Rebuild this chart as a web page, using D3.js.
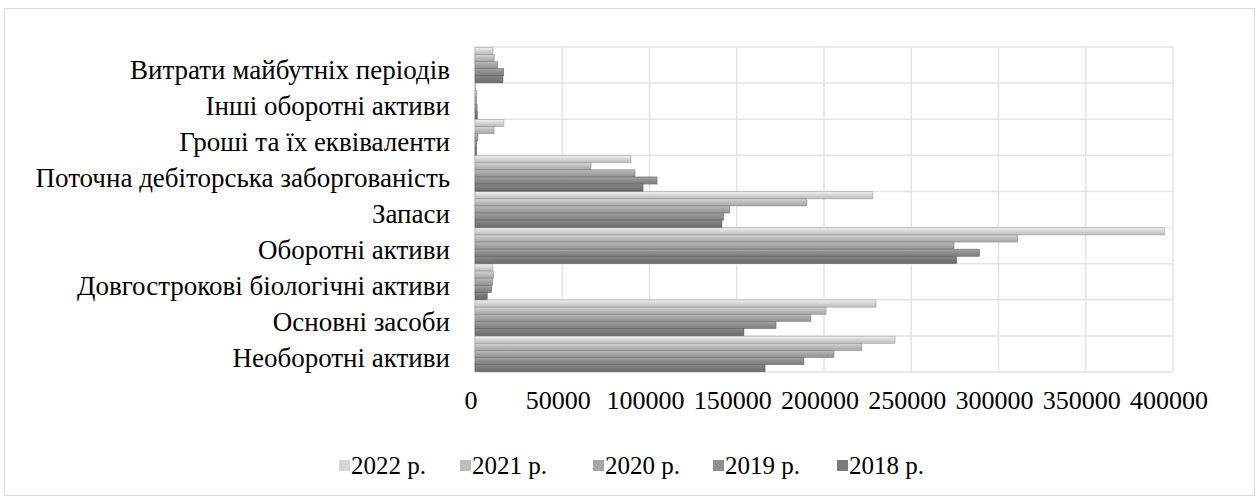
<!DOCTYPE html>
<html>
<head>
<meta charset="utf-8">
<script src="https://cdnjs.cloudflare.com/ajax/libs/d3/7.8.5/d3.min.js"></script>
<style>
  body { margin: 0; background: #fff; }
  text { font-family: "Liberation Serif", "Times New Roman", serif; fill: #000; }
</style>
</head>
<body>
<div id="chart"></div>
<script>
// categories top to bottom
var categories = [
  "Витрати майбутніх періодів",
  "Інші оборотні активи",
  "Гроші та їх еквіваленти",
  "Поточна дебіторська заборгованість",
  "Запаси",
  "Оборотні активи",
  "Довгострокові біологічні активи",
  "Основні засоби",
  "Необоротні активи"
];
var years = ["2022 р.", "2021 р.", "2020 р.", "2019 р.", "2018 р."];
var v2022 = [10300, 500, 16600, 89400, 228000, 395000, 10000, 229800, 240700];
var v2021 = [11000, 800, 10900, 66500, 190200, 311000, 10500, 201100, 221700];
var v2020 = [13000, 1000, 1700, 91700, 146000, 274500, 10000, 192500, 205700];
var v2019 = [16500, 1200, 1000, 104300, 142500, 289000, 9500, 172500, 188500];
var v2018 = [16000, 1300, 800, 96300, 141500, 276000, 7000, 154100, 166200];
var xTicks = [0, 50000, 100000, 150000, 200000, 250000, 300000, 350000, 400000];
var colors = ["#d6d6d6", "#bdbdbd", "#a6a6a6", "#8f8f8f", "#7a7a7a"];

var series = [v2022, v2021, v2020, v2019, v2018];

var width = 1258, height = 499;
var svg = d3.select("#chart").append("svg")
    .attr("width", width)
    .attr("height", height);

// outer frame
svg.append("rect")
    .attr("x", 4.5).attr("y", 8.5)
    .attr("width", 1250).attr("height", 487)
    .attr("fill", "#fff")
    .attr("stroke", "#d9d9d9");

var x = d3.scaleLinear().domain([0, 400000]).range([475, 1173]);
var y = d3.scaleBand().domain(categories).range([47, 372]);
var ySub = d3.scaleBand().domain(years).range([0, y.bandwidth()]).paddingOuter(0.04);

// gradients for the shaded bars
var defs = svg.append("defs");
colors.forEach(function (c, i) {
    var g = defs.append("linearGradient")
        .attr("id", "grad" + i)
        .attr("x1", 0).attr("y1", 0).attr("x2", 0).attr("y2", 1);
    g.append("stop").attr("offset", "0%").attr("stop-color", d3.color(c).brighter(0.35));
    g.append("stop").attr("offset", "45%").attr("stop-color", c);
    g.append("stop").attr("offset", "100%").attr("stop-color", d3.color(c).darker(0.35));
});

// grid
var grid = svg.append("g");
grid.selectAll("line.v")
    .data(xTicks)
    .enter().append("line")
    .attr("x1", function (d) { return x(d); })
    .attr("x2", function (d) { return x(d); })
    .attr("y1", y.range()[0])
    .attr("y2", y.range()[1])
    .attr("stroke", "#e3e3e3")
    .attr("stroke-width", 1.5);
var hLines = categories.map(function (c) { return y(c); }).concat([y.range()[1]]);
grid.selectAll("line.h")
    .data(hLines)
    .enter().append("line")
    .attr("x1", x(0))
    .attr("x2", x(400000))
    .attr("y1", function (d) { return d; })
    .attr("y2", function (d) { return d; })
    .attr("stroke", "#e3e3e3")
    .attr("stroke-width", 1.5);

// bars
series.forEach(function (vals, i) {
    svg.append("g").selectAll("rect")
        .data(vals)
        .enter().append("rect")
        .attr("x", x(0))
        .attr("y", function (d, j) { return y(categories[j]) + ySub(years[i]); })
        .attr("width", function (d) { return x(d) - x(0); })
        .attr("height", ySub.bandwidth())
        .attr("fill", "url(#grad" + i + ")")
        .attr("stroke", d3.color(colors[i]).darker(0.8))
        .attr("stroke-width", 0.6);
});

// category labels
svg.append("g").selectAll("text")
    .data(categories)
    .enter().append("text")
    .attr("x", 450)
    .attr("y", function (d) { return y(d) + y.bandwidth() / 2 + 4; })
    .attr("dy", "0.35em")
    .attr("text-anchor", "end")
    .style("font-size", "27px")
    .text(function (d) { return d; });

// x tick labels
svg.append("g").selectAll("text")
    .data(xTicks)
    .enter().append("text")
    .attr("x", function (d) { return x(d) - 4; })
    .attr("y", 409)
    .attr("text-anchor", "middle")
    .style("font-size", "26px")
    .text(function (d) { return d; });

// legend
var legendX = [339, 460, 593, 713, 837];
var legend = svg.append("g");
years.forEach(function (yr, i) {
    legend.append("rect")
        .attr("x", legendX[i]).attr("y", 460)
        .attr("width", 11).attr("height", 11)
        .attr("fill", colors[i]);
    legend.append("text")
        .attr("x", legendX[i] + 12).attr("y", 474)
        .style("font-size", "25px")
        .text(yr);
});
</script>
</body>
</html>
